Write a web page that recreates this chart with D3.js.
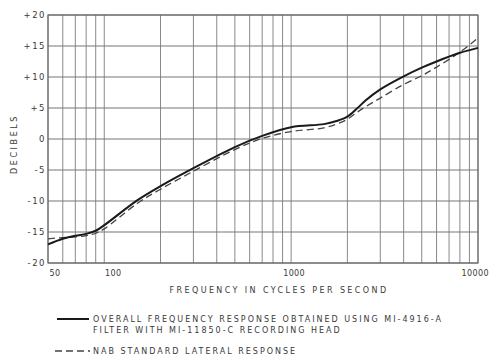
<!DOCTYPE html>
<html><head><meta charset="utf-8">
<script src="https://cdn.jsdelivr.net/npm/d3@7"></script>
<style>
body{margin:0;background:#fff;}
text{font-family:"DejaVu Sans",sans-serif;fill:#3a3a3a;}
</style></head>
<body><svg id="c" width="491" height="357"></svg>
<script>
const freqs = [50,60,70,80,90,100,150,200,300,500,700,1000,1500,1750,2000,2250,2500,3000,4000,5000,6000,8000,10000];
const overallDb = [-17.0,-16.1,-15.6,-15.3,-14.8,-13.9,-9.9,-7.6,-4.7,-1.3,0.5,1.9,2.4,2.9,3.6,4.9,6.2,8.0,10.1,11.5,12.5,13.9,14.7];
const nabDb = [-16.1,-15.9,-15.8,-15.6,-15.2,-14.5,-10.4,-8.1,-5.2,-1.7,0.1,1.2,1.8,2.4,3.2,4.3,5.2,6.6,8.8,10.2,11.6,14.0,16.3];
const yTicks = [20,15,10,5,0,-5,-10,-15,-20];
const yTickLabels = ["+20","+15","+10","+5","0","-5","-10","-15","-20"];
const xLabelTicks = [50,100,1000,10000];
const xGridTicks = [50,60,70,80,90,100,200,300,400,500,600,700,800,900,1000,2000,3000,4000,5000,6000,7000,8000,9000,10000];
const legendLabels = ["OVERALL FREQUENCY RESPONSE OBTAINED USING MI-4916-A","FILTER WITH MI-11850-C RECORDING HEAD","NAB STANDARD LATERAL RESPONSE"];
const xTitle = "FREQUENCY IN CYCLES PER SECOND";
const yTitle = "DECIBELS";

const svg = d3.select("#c");
const L=48,R=478,T=15,B=263;
const x = d3.scaleLog().domain([50,10000]).range([L,R]);
const y = d3.scaleLinear().domain([-20,20]).range([B,T]);

const g = svg.append("g");
// grid
g.selectAll(".vg").data(xGridTicks).join("line")
 .attr("x1",d=>x(d)).attr("x2",d=>x(d)).attr("y1",T).attr("y2",B)
 .attr("stroke","#8a8a8a").attr("stroke-width",1);
g.selectAll(".hg").data(yTicks).join("line")
 .attr("x1",L).attr("x2",R).attr("y1",d=>y(d)).attr("y2",d=>y(d))
 .attr("stroke","#777").attr("stroke-width",1.1);
g.append("rect").attr("x",L).attr("y",T).attr("width",R-L).attr("height",B-T)
 .attr("fill","none").attr("stroke","#666").attr("stroke-width",1.1);

// y labels
g.selectAll(".yl").data(yTicks).join("text")
 .attr("x",L-2).attr("y",d=>y(d)).attr("dy","0.35em")
 .attr("text-anchor","end").attr("font-size","8.5px").attr("letter-spacing","1.5px")
 .text((d,i)=>yTickLabels[i]);
// x labels
g.selectAll(".xl").data(xLabelTicks).join("text")
 .attr("x",d=>d===10000?489:x(d)+(d===50?7:d===100?9:3)).attr("y",B+10)
 .attr("dy","0.35em").attr("text-anchor",d=>d===10000?"end":"middle")
 .attr("font-size","8px").attr("letter-spacing","0.4px")
 .text(d=>d);

g.append("text").attr("x",279).attr("y",290.5).attr("dy","0.35em").attr("text-anchor","middle")
 .attr("font-size","8px").attr("letter-spacing","2.4px").text(xTitle);
g.append("text").attr("transform","translate(14,144) rotate(-90)").attr("dy","0.35em")
 .attr("text-anchor","middle").attr("font-size","8px").attr("letter-spacing","2.6px").text(yTitle);

const line = d3.line().x((d,i)=>x(freqs[i])).y(d=>y(d)).curve(d3.curveCatmullRom.alpha(0.5));
g.append("path").attr("d",line(nabDb)).attr("fill","none").attr("stroke","#444")
 .attr("stroke-width",1.3).attr("stroke-dasharray","7,4");
g.append("path").attr("d",line(overallDb)).attr("fill","none").attr("stroke","#1a1a1a")
 .attr("stroke-width",2);

// legend
g.append("line").attr("x1",57).attr("x2",89).attr("y1",319).attr("y2",319).attr("stroke","#1a1a1a").attr("stroke-width",2);
g.append("line").attr("x1",55).attr("x2",90).attr("y1",351).attr("y2",351).attr("stroke","#444").attr("stroke-width",1.3).attr("stroke-dasharray","7,4");
[[319,0],[330,1],[351,2]].forEach(([yy,i])=>{
  g.append("text").attr("x",93).attr("y",yy).attr("dy","0.35em").attr("font-size","8px")
   .attr("letter-spacing","2.0px").text(legendLabels[i]);
});
</script></body></html>
